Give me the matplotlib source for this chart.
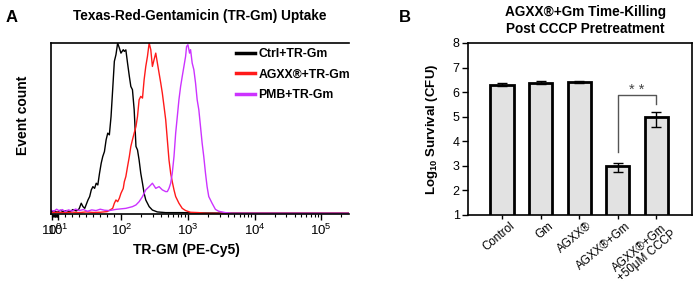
import matplotlib
matplotlib.use("Agg")
import matplotlib.pyplot as plt
import matplotlib.transforms as mtransforms
import numpy as np

plt.rcParams['font.family'] = ['Liberation Sans', 'DejaVu Sans']
plt.rcParams['mathtext.fontset'] = 'custom'
plt.rcParams['mathtext.rm'] = 'Liberation Sans'
plt.rcParams['mathtext.bf'] = 'Liberation Sans:bold'

# ---- panel A: flow histograms (x = fluorescence, y = % of max count)
ctrl_x = [0.5, 5, 9, 13, 17, 22, 27, 31, 36, 40, 43, 45.5, 48, 52.6, 55, 57.3, 59.6, 62,
          64.3, 66.6, 69, 71.4, 73.6, 76, 78.4, 80.7, 83, 85.4, 87.7, 90.1, 92.4, 94.8,
          97.2, 99.5, 107, 111, 117, 124, 132, 139, 147, 156, 166, 175, 185, 196, 208,
          220, 233, 262, 293, 348, 464, 822, 1460, 4570, 14500, 142000, 262000]
ctrl_y = [1.2, 1.8, 1.0, 2.2, 1.4, 2.0, 1.2, 2.6, 1.8, 3.0, 6.3, 4.3, 3.3, 8.2, 10.2,
          14.1, 16, 15, 18, 17, 23.8, 29.7, 33.6, 36.5, 43.4, 47.3, 46.3, 57, 72.7, 89.3,
          93.2, 100, 97.1, 94.1, 96.1, 95.1, 96, 88.3, 80.5, 74.6, 72.7, 61, 39.5, 37.5,
          31.6, 23.8, 18, 12.1, 8.2, 4.3, 2.3, 1.2, 0.8, 0.8, 0.6, 0.5, 0.5, 0.5, 0.5]

agxx_x = [0.5, 10, 20, 30, 40, 50, 60, 70, 80, 87.7, 90.1, 92.4, 94.8, 97.2, 99.5, 107,
          111, 117, 124, 132, 139, 147, 156, 166, 175, 185, 196, 208, 220, 233, 247, 262,
          277, 293, 310, 329, 348, 369, 391, 413, 438, 464, 491, 520, 551, 582, 618, 655,
          733, 822, 923, 1096, 1460, 1837, 5000, 50000, 262000]
agxx_y = [0.8, 1.0, 0.7, 1.1, 0.8, 1.2, 0.9, 1.0, 1.4, 3.3, 6.3, 8.2, 7.2, 9.2, 12.1,
          15, 18.9, 21.9, 27.7, 33.6, 39.5, 43.4, 47.3, 51.2, 57, 66.8, 68.8, 67.8, 78.5,
          86.3, 92.2, 100, 96.1, 86.3, 90.2, 94.1, 88.3, 82.4, 76.6, 70.7, 62.9, 55.1,
          43.4, 31.6, 23.8, 18.9, 14.1, 10.2, 6.3, 3.3, 2.0, 1.0, 0.8, 0.4, 0.4, 0.4, 0.4]

pmb_x = [0.5, 4, 8, 12, 16, 20, 25, 30, 35, 40, 46, 52, 58, 64, 70, 76, 83, 92.4, 117,
         147, 166, 185, 208, 233, 262, 277, 293, 329, 369, 413, 464, 491, 520, 551, 582,
         618, 655, 693, 733, 777, 822, 871, 923, 955, 1000, 1059, 1096, 1159, 1228, 1302,
         1377, 1459, 1545, 1636, 1730, 1837, 1941, 2056, 2305, 2588, 2900, 3648, 4570,
         20000, 262000]
pmb_y = [2.2, 1.6, 2.8, 1.8, 2.6, 1.5, 2.4, 1.7, 2.9, 2.0, 2.6, 1.6, 2.4, 2.0, 2.8, 2.2,
         2.0, 2.7, 3.3, 4.3, 5.3, 7.2, 10.2, 14.1, 16, 17, 18, 15, 16, 14.1, 13.1, 13.1,
         15, 18, 23.8, 33.6, 47.3, 57, 66.8, 74.6, 80.5, 86.3, 92.2, 98, 99, 94.1, 96.1,
         88.3, 84.4, 76.6, 66.8, 60.9, 51.2, 41.4, 33.6, 23.8, 16, 10.2, 6.3, 2.7, 1.6,
         0.8, 0.4, 0.4, 0.4]

hist_labels = ["Ctrl+TR-Gm", "AGXX®+TR-Gm", "PMB+TR-Gm"]
hist_colors = ["black", "#ff1a1a", "#cc33ff"]

# ---- panel B: survival bars
groups = ["Control", "Gm", "AGXX®", "AGXX®+Gm", "AGXX®+Gm\n+50μM CCCP"]
survival = [6.31, 6.39, 6.42, 3.0, 5.0]
err_lo = [0.07, 0.05, 0.03, 0.27, 0.43]
err_hi = [0.05, 0.06, 0.03, 0.12, 0.20]

fig = plt.figure(figsize=(6.93, 2.84), dpi=100)

# panel A
ax = fig.add_axes([0.0736, 0.2465, 0.43, 0.602])
for xs, ys, lab, col in zip([ctrl_x, agxx_x, pmb_x], [ctrl_y, agxx_y, pmb_y],
                            hist_labels, hist_colors):
    ax.plot(xs, ys, color=col, lw=1.0, label=lab)
ax.set_xscale('symlog', linthresh=100, linscale=0.95)
ax.set_xlim(0, 262144)
ax.set_ylim(0, 100)
ax.set_xticks([1, 10, 100, 1000, 10000, 100000])
ax.set_xticklabels([r"$10^{0}$", r"$10^{1}$", r"$10^{2}$", r"$10^{3}$",
                    r"$10^{4}$", r"$10^{5}$"], fontsize=9.5)
minor = [m * 10 ** d for d in range(0, 6) for m in range(2, 10)]
ax.set_xticks([v for v in minor if v < 262144], minor=True)
ax.tick_params(axis='x', which='major', direction='out', length=4, width=1, pad=2)
ax.tick_params(axis='x', which='minor', direction='out', length=2.5, width=0.8)
ax.set_yticks([])
ax.spines['right'].set_visible(False)
for s in ['top', 'left', 'bottom']:
    ax.spines[s].set_linewidth(1.2)
ax.set_xlabel("TR-GM (PE-Cy5)", fontsize=10, fontweight='bold')
ax.xaxis.set_label_coords(0.453, -0.17)
ax.set_ylabel("Event count", fontsize=10, fontweight='bold')
ax.yaxis.set_label_coords(-0.072, 0.58)
leg = ax.legend(loc='upper right', frameon=False, prop={'weight': 'bold', 'size': 8.8},
                handlelength=1.5, handletextpad=0.3, labelspacing=0.7,
                borderaxespad=0.0, bbox_to_anchor=(1.02, 1.0))
for h in leg.get_lines():
    h.set_linewidth(2.5)
fig.text(0.288, 0.945, "Texas-Red-Gentamicin (TR-Gm) Uptake", ha='center', va='center',
         fontsize=9.8, fontweight='bold')
fig.text(0.008, 0.94, "A", ha='left', va='center', fontsize=12, fontweight='bold')

# panel B
bx = fig.add_axes([0.6753, 0.243, 0.3233, 0.6056])
pos = np.arange(len(groups))
bx.bar(pos, survival, width=0.6, color='#e2e2e2', edgecolor='black', linewidth=2)
bx.errorbar(pos, survival, yerr=[err_lo, err_hi], fmt='none', ecolor='black',
            elinewidth=1, capsize=3.5, capthick=1)
bx.set_ylim(1, 8)
bx.set_xlim(-0.88, 4.92)
bx.set_yticks(range(1, 9))
bx.tick_params(axis='y', labelsize=9, direction='out', length=4, width=1, pad=2)
bx.set_xticks(pos)
bx.set_xticklabels(groups, rotation=40, ha='right', rotation_mode='anchor',
                   fontsize=8.4, linespacing=0.88, multialignment='center')
bx.tick_params(axis='x', direction='out', length=3, width=1, pad=1.5)
shift = mtransforms.ScaledTranslation(0.07, 0.01, fig.dpi_scale_trans)
for lbl in bx.get_xticklabels():
    lbl.set_transform(lbl.get_transform() + shift)
for s in bx.spines.values():
    s.set_linewidth(1.2)
bx.set_ylabel(r"Log$_{\mathbf{10}}$ Survival (CFU)", fontsize=9.5, fontweight='bold',
              labelpad=9)
# significance bracket
bx.plot([3, 3, 4, 4], [3.55, 5.88, 5.88, 5.52], color='#555555', lw=1)
bx.text(3.5, 6.08, "* *", ha='center', va='center', fontsize=10.5, color='#444444')
fig.text(0.845, 0.928, "AGXX®+Gm Time-Killing\nPost CCCP Pretreatment", ha='center',
         va='center', fontsize=9.8, fontweight='bold', linespacing=1.3)
fig.text(0.575, 0.94, "B", ha='left', va='center', fontsize=12, fontweight='bold')

fig.savefig("out.png", dpi=100)
